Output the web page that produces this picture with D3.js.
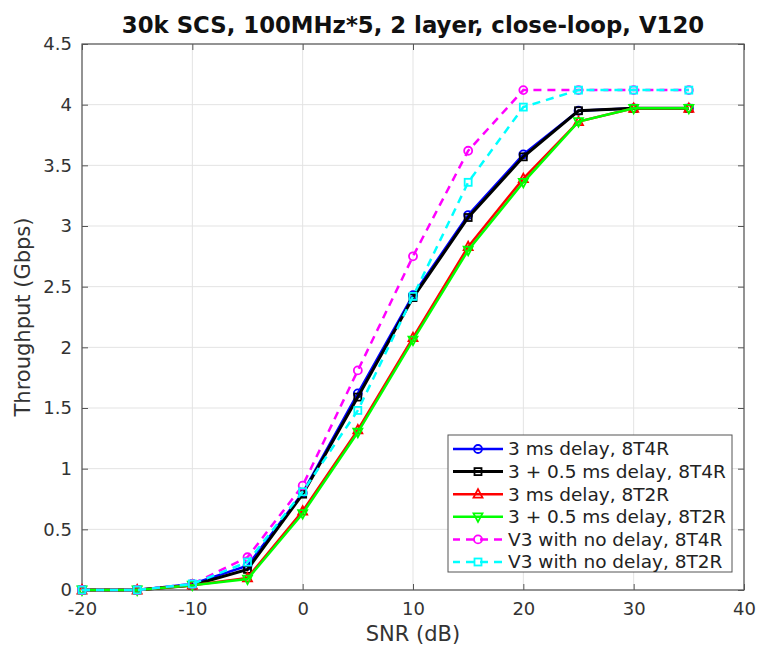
<!DOCTYPE html>
<html>
<head>
<meta charset="utf-8">
<script src="https://cdn.jsdelivr.net/npm/d3@7/dist/d3.min.js"></script>
<style>
  html, body { margin: 0; padding: 0; background: #fff; }
  svg { display: block; font-family: "DejaVu Sans", sans-serif; }
</style>
</head>
<body>
<svg id="chart" width="760" height="648"></svg>
<script>
const title = "30k SCS, 100MHz*5, 2 layer, close-loop, V120";
const xLabel = "SNR (dB)";
const yLabel = "Throughput (Gbps)";
const snr = [-20, -15, -10, -5, 0, 5, 10, 15, 20, 25, 30, 35];
const xTicks = [-20, -10, 0, 10, 20, 30, 40];
const yTicks = [0, 0.5, 1, 1.5, 2, 2.5, 3, 3.5, 4, 4.5];

const seriesNames = [
  "3 ms delay, 8T4R",
  "3 + 0.5 ms delay, 8T4R",
  "3 ms delay, 8T2R",
  "3 + 0.5 ms delay, 8T2R",
  "V3 with no delay, 8T4R",
  "V3 with no delay, 8T2R"
];
const blue8T4R    = [0, 0, 0.05, 0.20, 0.80, 1.62, 2.43, 3.09, 3.59, 3.95, 3.97, 3.97];
const black8T4R   = [0, 0, 0.04, 0.17, 0.79, 1.59, 2.41, 3.07, 3.57, 3.95, 3.97, 3.97];
const red8T2R     = [0, 0, 0.04, 0.10, 0.65, 1.32, 2.08, 2.83, 3.39, 3.86, 3.97, 3.97];
const green8T2R   = [0, 0, 0.04, 0.09, 0.63, 1.30, 2.06, 2.80, 3.36, 3.86, 3.97, 3.97];
const magentaV3   = [0, 0, 0.05, 0.27, 0.86, 1.81, 2.75, 3.62, 4.12, 4.12, 4.12, 4.12];
const cyanV3      = [0, 0, 0.05, 0.23, 0.81, 1.48, 2.42, 3.36, 3.98, 4.12, 4.12, 4.12];

const seriesValues = [blue8T4R, black8T4R, red8T2R, green8T2R, magentaV3, cyanV3];
const colors = ["#0000ff", "#000000", "#ff0000", "#00ff00", "#ff00ff", "#00ffff"];
const markers = ["circle", "square", "triUp", "triDown", "circle", "square"];
const dashed = [false, false, false, false, true, true];

const svg = d3.select("#chart");
const L = 82, R = 744, T = 44, B = 590;
const x = d3.scaleLinear().domain([-20, 40]).range([L, R]);
const y = d3.scaleLinear().domain([0, 4.5]).range([B, T]);

// grid
const grid = svg.append("g");
grid.selectAll("line.gx").data(xTicks).join("line")
  .attr("x1", d => x(d)).attr("x2", d => x(d)).attr("y1", T).attr("y2", B)
  .attr("stroke", "#e3e3e3").attr("stroke-width", 1);
grid.selectAll("line.gy").data(yTicks).join("line")
  .attr("x1", L).attr("x2", R).attr("y1", d => y(d)).attr("y2", d => y(d))
  .attr("stroke", "#e3e3e3").attr("stroke-width", 1);

// axes (ticks inward)
const axisColor = "#555";
const xAxisB = svg.append("g").attr("transform", `translate(0,${B})`)
  .call(d3.axisBottom(x).tickValues(xTicks).tickSize(-6).tickPadding(12).tickFormat(d => String(d)));
const xAxisT = svg.append("g").attr("transform", `translate(0,${T})`)
  .call(d3.axisTop(x).tickValues(xTicks).tickSize(-6).tickFormat(""));
const yAxisL = svg.append("g").attr("transform", `translate(${L},0)`)
  .call(d3.axisLeft(y).tickValues(yTicks).tickSize(-6).tickPadding(10).tickFormat(d => String(d)));
const yAxisR = svg.append("g").attr("transform", `translate(${R},0)`)
  .call(d3.axisRight(y).tickValues(yTicks).tickSize(-6).tickFormat(""));
[xAxisB, xAxisT, yAxisL, yAxisR].forEach(g => {
  g.select(".domain").remove();
  g.selectAll(".tick line").attr("stroke", axisColor);
  g.selectAll(".tick text").attr("fill", "#333").style("font-size", "18px")
    .style("font-family", "DejaVu Sans, sans-serif");
});
svg.append("rect").attr("x", L).attr("y", T).attr("width", R - L).attr("height", B - T)
  .attr("fill", "none").attr("stroke", axisColor).attr("stroke-width", 1.2);

// labels
svg.append("text").attr("x", (L + R) / 2).attr("y", 33).attr("text-anchor", "middle")
  .style("font-size", "22.8px").style("font-weight", "bold").attr("fill", "#111").text(title);
svg.append("text").attr("x", (L + R) / 2).attr("y", 641).attr("text-anchor", "middle")
  .style("font-size", "21px").attr("fill", "#333").text(xLabel);
svg.append("text").attr("transform", `translate(30,${(T + B) / 2}) rotate(-90)`)
  .attr("text-anchor", "middle").style("font-size", "21px").attr("fill", "#333").text(yLabel);

// markers
function drawMarker(g, type, cx, cy, color) {
  if (type === "circle") {
    g.append("circle").attr("cx", cx).attr("cy", cy).attr("r", 4)
      .attr("fill", "none").attr("stroke", color).attr("stroke-width", 1.8);
  } else if (type === "square") {
    g.append("rect").attr("x", cx - 3.5).attr("y", cy - 3.5).attr("width", 7).attr("height", 7)
      .attr("fill", "none").attr("stroke", color).attr("stroke-width", 1.8);
  } else if (type === "triUp") {
    g.append("path").attr("d", `M${cx},${cy - 5}L${cx + 4.5},${cy + 3.5}L${cx - 4.5},${cy + 3.5}Z`)
      .attr("fill", "none").attr("stroke", color).attr("stroke-width", 1.8);
  } else if (type === "triDown") {
    g.append("path").attr("d", `M${cx},${cy + 5}L${cx + 4.5},${cy - 3.5}L${cx - 4.5},${cy - 3.5}Z`)
      .attr("fill", "none").attr("stroke", color).attr("stroke-width", 1.8);
  }
}

const line = d3.line().x(d => x(d[0])).y(d => y(d[1]));
const plot = svg.append("g");
seriesValues.forEach((vals, i) => {
  const pts = snr.map((s, j) => [s, vals[j]]);
  const g = plot.append("g");
  g.append("path").datum(pts).attr("d", line).attr("fill", "none")
    .attr("stroke", colors[i]).attr("stroke-width", i === 1 ? 3 : 2.5)
    .attr("stroke-dasharray", dashed[i] ? "8,6" : null);
  pts.forEach(p => drawMarker(g, markers[i], x(p[0]), y(p[1]), colors[i]));
});

// legend
const lg = svg.append("g");
lg.append("rect").attr("x", 448).attr("y", 435).attr("width", 284).attr("height", 137)
  .attr("fill", "#fff").attr("stroke", axisColor).attr("stroke-width", 1);
seriesNames.forEach((name, i) => {
  const ry = 449 + i * 22.6;
  lg.append("line").attr("x1", 453).attr("x2", 503).attr("y1", ry).attr("y2", ry)
    .attr("stroke", colors[i]).attr("stroke-width", i === 1 ? 3 : 2.5)
    .attr("stroke-dasharray", dashed[i] ? "8,6" : null)
    .attr("stroke-dashoffset", dashed[i] ? 1 : null);
  drawMarker(lg, markers[i], 478, ry, colors[i]);
  lg.append("text").attr("x", 508).attr("y", ry).attr("dy", "0.35em")
    .style("font-size", "18.5px").attr("fill", "#222").text(name);
});
</script>
</body>
</html>
